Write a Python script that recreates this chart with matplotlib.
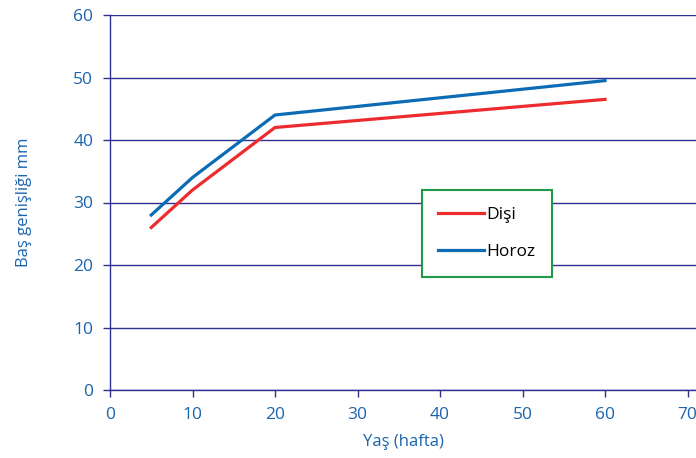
import matplotlib.pyplot as plt

weeks = [5, 10, 20, 60]
disi = [26, 32, 42, 46.5]
horoz = [28, 34, 44, 49.5]
series_labels = ["Dişi", "Horoz"]

navy = "#2e3192"
label_blue = "#1b64ae"

plt.rcParams["font.family"] = ["Open Sans", "DejaVu Sans"]

fig = plt.figure(figsize=(6.96, 4.58), dpi=100)
ax = fig.add_axes([110 / 696, 68 / 458, 586 / 696, 375 / 458])

ax.plot(weeks, disi, color="#ee2b2f", linewidth=2.3, label=series_labels[0])
ax.plot(weeks, horoz, color="#0b6cb5", linewidth=2.3, label=series_labels[1])

ax.set_xlim(0, 586 / 8.25)
ax.set_ylim(0, 60)
ax.set_xticks(range(0, 71, 10))
ax.set_yticks(range(0, 61, 10))

ax.yaxis.grid(True, color=navy, linewidth=1.0)
ax.set_axisbelow(True)
for s in ["top", "right"]:
    ax.spines[s].set_visible(False)
for s in ["left", "bottom"]:
    ax.spines[s].set_color(navy)
    ax.spines[s].set_linewidth(1.0)

ax.tick_params(direction="out", length=5, width=1.0, color=navy,
               labelcolor=label_blue, labelsize=12.5, pad=7)

ax.set_xlabel("Yaş (hafta)", color=label_blue, fontsize=12, labelpad=8)
ax.set_ylabel("Baş genişliği mm", color=label_blue, fontsize=12, labelpad=30)

leg = ax.legend(loc="upper left", bbox_to_anchor=((422 - 110) / 586, (390 - 190) / 375),
                frameon=True, fancybox=False, fontsize=12.5, borderpad=0.95,
                labelspacing=1.25, handlelength=2.6, handletextpad=0.15,
                borderaxespad=0)
leg.get_frame().set_edgecolor("#1f9a48")
leg.get_frame().set_linewidth(1.5)
leg.get_frame().set_alpha(1)
for t in leg.get_texts():
    t.set_color("black")

fig.savefig("out.png", dpi=100)
